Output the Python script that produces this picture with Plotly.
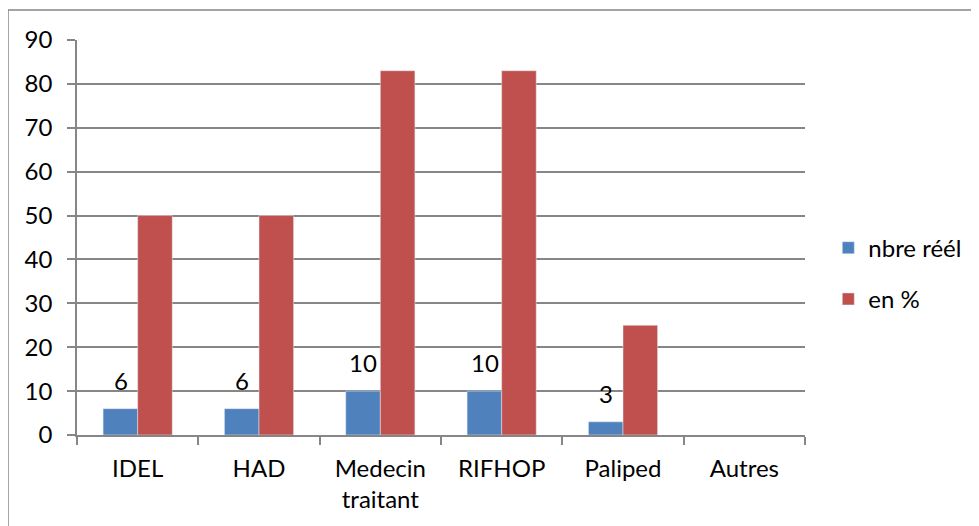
import plotly.graph_objects as go

categories = ["IDEL", "HAD", "Medecin<br>traitant", "RIFHOP", "Paliped", "Autres"]
nbre_reel = [6, 6, 10, 10, 3, None]
en_pct = [50, 50, 83, 83, 25, None]
y_ticks = [0, 10, 20, 30, 40, 50, 60, 70, 80, 90]

FONT = "Lato"
FS = 24
GREY = "#868686"

fig = go.Figure()
fig.add_trace(go.Bar(x=categories, y=nbre_reel, name="nbre réél",
                     marker=dict(color="#4F81BD"), legendgroup="a"))
fig.add_trace(go.Bar(x=categories, y=en_pct, name="en %",
                     marker=dict(color="#C0504D"), legendgroup="b"))

for c, v in zip(categories, nbre_reel):
    if v:
        fig.add_annotation(x=c, y=v, text=str(v), showarrow=False,
                           xshift=-17, yshift=12, yanchor="bottom",
                           font=dict(family=FONT, size=FS, color="#000"))

fig.add_shape(type="rect", xref="paper", yref="paper",
              x0=-0.0948, x1=1.3, y0=-0.4, y1=1.076,
              line=dict(color=GREY, width=1.5), layer="below")

fig.update_layout(
    width=979, height=526,
    margin=dict(l=69, r=182, t=32, b=99),
    paper_bgcolor="white", plot_bgcolor="white",
    barmode="group", bargap=0.43, bargroupgap=0,
    font=dict(family=FONT, size=FS, color="#000"),
    legend=dict(x=1.032, y=0.53, xanchor="left", yanchor="top",
                font=dict(family=FONT, size=FS), tracegroupgap=17,
                bgcolor="rgba(0,0,0,0)"),
    xaxis=dict(showline=True, linecolor=GREY, linewidth=1.5,
               ticks="outside", tickson="boundaries", ticklen=8,
               tickcolor=GREY, tickwidth=1.5, showgrid=False,
               ticklabelstandoff=11,
               tickfont=dict(family=FONT, size=FS)),
    yaxis=dict(range=[0, 90], tickvals=y_ticks, showline=True,
               linecolor=GREY, linewidth=1.5, ticks="outside",
               ticklen=8, tickcolor=GREY, tickwidth=1.5,
               showgrid=True, gridcolor=GREY, gridwidth=1.5,
               zeroline=False, ticklabelstandoff=10,
               tickfont=dict(family=FONT, size=FS)),
)

fig.write_html("out.html")
